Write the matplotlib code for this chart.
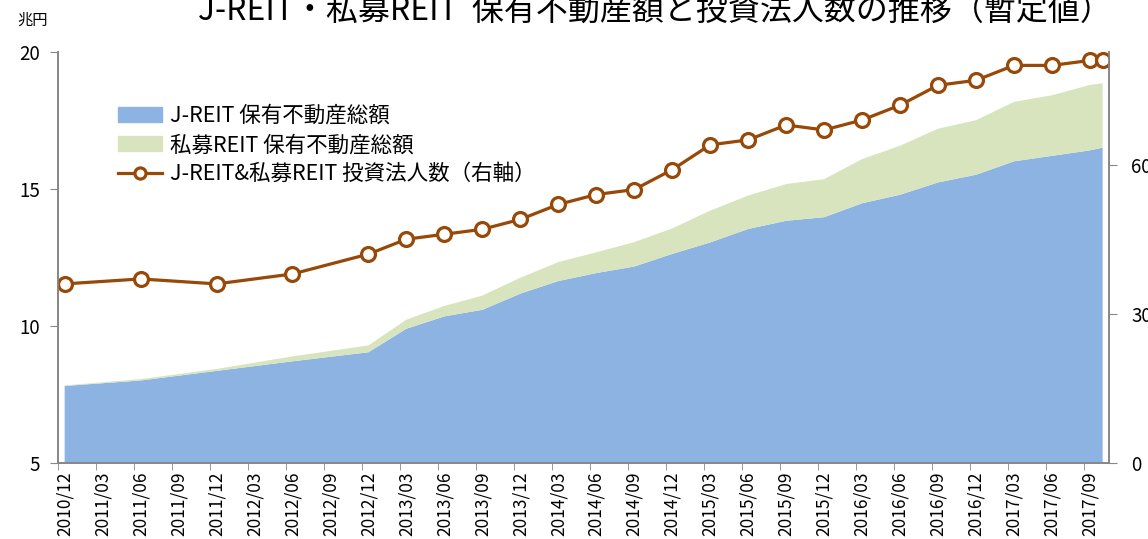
import matplotlib
matplotlib.use('Agg')
import matplotlib.pyplot as plt
from matplotlib.patches import Patch
from matplotlib.lines import Line2D

plt.rcParams['font.family'] = ['Noto Sans CJK JP', 'DejaVu Sans']

# data
dates = ['2010/12', '2011/06', '2011/12', '2012/06', '2012/12', '2013/03', '2013/06', '2013/09',
         '2013/12', '2014/03', '2014/06', '2014/09', '2014/12', '2015/03', '2015/06', '2015/09',
         '2015/12', '2016/03', '2016/06', '2016/09', '2016/12', '2017/03', '2017/06', '2017/09',
         '2017/10']
jreit = [7.80, 8.00, 8.35, 8.70, 9.03, 9.89, 10.34, 10.58, 11.17, 11.63, 11.92, 12.16, 12.62,
         13.04, 13.53, 13.83, 13.96, 14.47, 14.78, 15.23, 15.51, 16.00, 16.20, 16.40, 16.50]
private = [0.02, 0.05, 0.07, 0.18, 0.25, 0.33, 0.38, 0.52, 0.58, 0.69, 0.76, 0.89, 0.93,
           1.16, 1.22, 1.34, 1.39, 1.61, 1.79, 1.96, 1.99, 2.17, 2.21, 2.39, 2.35]
count = [36, 37, 36, 38, 42, 45, 46, 47, 49, 52, 54, 55, 59, 64, 65, 68, 67, 69, 72, 76, 77,
         80, 80, 81, 81]
tick_labels = ['2010/12', '2011/03', '2011/06', '2011/09', '2011/12', '2012/03', '2012/06',
               '2012/09', '2012/12', '2013/03', '2013/06', '2013/09', '2013/12', '2014/03',
               '2014/06', '2014/09', '2014/12', '2015/03', '2015/06', '2015/09', '2015/12',
               '2016/03', '2016/06', '2016/09', '2016/12', '2017/03', '2017/06', '2017/09']

labels = ['J-REIT 保有不動産総額', '私募REIT 保有不動産総額', 'J-REIT&私募REIT 投資法人数（右軸）']
title = 'J-REIT・私募REIT  保有不動産額と投資法人数の推移（暫定値）'


def month_index(s):
    y, m = s.split('/')
    return (int(y) - 2010) * 12 + int(m) - 12


x = [month_index(d) for d in dates]
tick_x = [month_index(t) for t in tick_labels]

blue = '#8DB3E2'
green = '#D7E4BD'
brown = '#984807'
gray = '#868686'

fig = plt.figure(figsize=(11.48, 5.39), dpi=100)
ax = fig.add_axes([0.0508, 0.1416, 0.9152, 0.7624])
ax2 = ax.twinx()

ax.stackplot(x, jreit, private, colors=[blue, green], linewidth=0)
ax2.plot(x, count, color=brown, lw=2.3, marker='o', ms=10, mfc='white', mec=brown, mew=2.3)

ax.set_xlim(-0.5, 82.5)
ax.set_ylim(5, 20)
ax.set_yticks([5, 10, 15, 20])
ax2.set_ylim(0, 82.75)
ax2.set_yticks([0, 30, 60])

# labels sit on the month, tick marks on the quarter boundaries
ax.set_xticks(tick_x)
ax.set_xticklabels(tick_labels, rotation=90, fontsize=12.5)
ax.set_xticks([t - 0.5 for t in tick_x], minor=True)
ax.tick_params(axis='x', which='major', length=0, pad=6)
ax.tick_params(axis='x', which='minor', length=5, color=gray, direction='out')
ax.tick_params(axis='y', length=6, color=gray, labelsize=13.5, pad=7)
ax2.tick_params(axis='y', length=6, color=gray, labelsize=13.5, pad=10)

for a in (ax, ax2):
    a.spines['top'].set_visible(False)
    for s in ('left', 'right', 'bottom'):
        a.spines[s].set_color(gray)
        a.spines[s].set_linewidth(1.2)

fig.text(0.5706, 1 - 11 / 539, title, ha='center', va='center', fontsize=23)
fig.text(17 / 1148, 1 - 20 / 539, '兆円', ha='left', va='center', fontsize=11)

handles = [Patch(color=blue), Patch(color=green),
           Line2D([], [], color=brown, lw=2.3, marker='o', ms=8, mfc='white', mec=brown, mew=2.3)]
fig.legend(handles, labels, loc='upper left', bbox_to_anchor=(118 / 1148, 1 - 105 / 539),
           frameon=False, fontsize=15.5, handlelength=2.05, handleheight=0.72,
           handletextpad=0.35, labelspacing=0.33, borderpad=0, borderaxespad=0)

fig.savefig('out.png', dpi=100)
